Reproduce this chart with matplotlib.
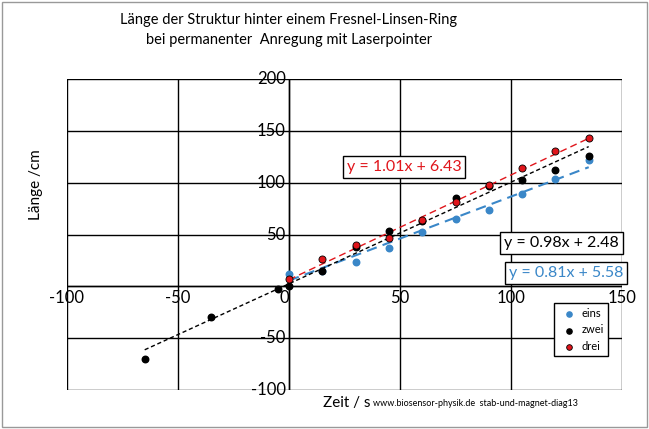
import matplotlib.pyplot as plt
import numpy as np

plt.rcParams['font.family'] = ['Lato', 'DejaVu Sans']

x_main = [0, 15, 30, 45, 60, 75, 90, 105, 120, 135]
eins = [12, 15, 23, 37, 52, 65, 74, 89, 104, 122]
x_zwei = [-65, -35, -5, 0, 15, 30, 45, 60, 75, 90, 105, 120, 135]
zwei = [-70, -30, -3, 0, 15, 38, 53, 63, 85, 97, 103, 112, 126]
drei = [7, 26, 40, 47, 64, 81, 98, 114, 131, 143]

fits = {"eins": (0.81, 5.58), "zwei": (0.98, 2.48), "drei": (1.01, 6.43)}
blue, red = "#3a87c8", "#e0151b"

fig = plt.figure(figsize=(6.49, 4.29), dpi=100)
fig.patches.append(plt.Rectangle((0.003, 0.005), 0.994, 0.99, transform=fig.transFigure,
                                 fill=False, edgecolor="#999999", lw=1))
ax = fig.add_axes([67 / 649, 1 - 390 / 429, (622 - 67) / 649, (390 - 79) / 429])
ax.set_xlim(-100, 150)
ax.set_ylim(-100, 200)
ax.set_xticks([-100, -50, 0, 50, 100, 150])
ax.set_yticks(range(-100, 201, 50))
ax.grid(True, color="black", lw=1)
ax.tick_params(length=0, labelsize=11)
for s in ax.spines.values():
    s.set_visible(False)
ax.set_xticklabels([])
ax.set_yticklabels([])
for t in [-100, -50, 50, 100, 150]:
    ax.text(t, -4, str(t), ha="center", va="top", fontsize=12)
ax.text(0, -4, "0", ha="right", va="top", fontsize=12)
for t in [-100, -50, 50, 100, 150, 200]:
    ax.text(-1.5, t, str(t), ha="right", va="center", fontsize=12)
ax.axhline(0, color="black", lw=1)
ax.axvline(0, color="black", lw=1)

xs = np.array([0, 135])
m, b = fits["eins"]
ax.plot(xs, m * xs + b, "--", color=blue, lw=1.5, dashes=(5, 3))
m, b = fits["zwei"]
xz = np.array([-65, 135])
ax.plot(xz, m * xz + b, "--", color="black", lw=1, dashes=(3, 2))
m, b = fits["drei"]
ax.plot(xs, m * xs + b, "--", color=red, lw=1, dashes=(5, 3))

ax.scatter(x_main, eins, s=22, color=blue, zorder=3, label="eins")
ax.scatter(x_zwei, zwei, s=22, color="black", zorder=3, label="zwei")
ax.scatter(x_main, drei, s=26, color=red, edgecolor="black", lw=0.6, zorder=4, label="drei")

box = dict(facecolor="white", edgecolor="black", lw=1, pad=3)
ax.text(26, 115, "y = 1.01x + 6.43", color=red, fontsize=11.5, bbox=box, va="center")
ax.text(97, 42, "y = 0.98x + 2.48", color="black", fontsize=11.5, bbox=box, va="center")
ax.text(99, 13, "y = 0.81x + 5.58", color=blue, fontsize=11.5, bbox=box, va="center")

ax.legend(loc="lower right", bbox_to_anchor=(0.985, 0.09), fontsize=8, handletextpad=0.1,
          framealpha=1, edgecolor="black", fancybox=False, markerscale=0.8)

fig.text(0.445, 0.93, "Länge der Struktur hinter einem Fresnel-Linsen-Ring\nbei permanenter  Anregung mit Laserpointer",
         ha="center", va="center", fontsize=10.5, linespacing=1.5)
fig.text(0.055, 0.57, "Länge /cm", rotation=90, ha="center", va="center", fontsize=11)
fig.text(0.497, 0.06, "Zeit / s", ha="left", va="center", fontsize=11)
fig.text(0.575, 0.06, "www.biosensor-physik.de  stab-und-magnet-diag13", ha="left", va="center", fontsize=6.5)

fig.savefig("out.png", dpi=100)
